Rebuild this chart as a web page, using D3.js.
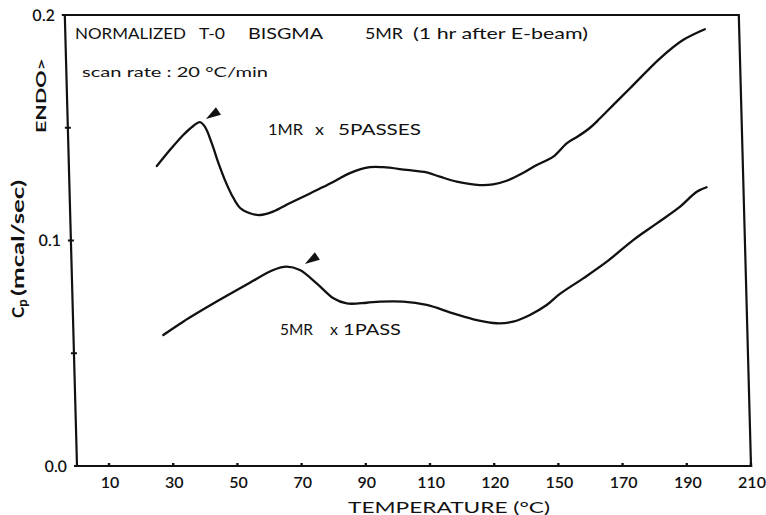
<!DOCTYPE html>
<html>
<head>
<meta charset="utf-8">
<script src="https://cdn.jsdelivr.net/npm/d3@7"></script>
<style>
  html, body { margin: 0; padding: 0; background: #fff; }
  svg { display: block; }
  text { fill: #111; font-family: Lato, "Open Sans", "DejaVu Sans", sans-serif; }
</style>
</head>
<body>
<svg id="chart" width="766" height="515"></svg>
<script>
// DSC trace, 1 MR x 5 passes (temperature, Cp)
const temps1MRx5 = [27.4, 31.6, 35.9, 39.1, 41.2, 42.7, 44.7, 46.6, 48.5, 50.5, 53.0, 56.0, 59.1, 63.2,
  68.6, 73.9, 79.0, 83.3, 87.5, 93.8, 97.9, 105.2, 111.4, 115.5, 120.7, 127.9, 132.0, 136.3, 141.4,
  145.8, 151.0, 155.3, 158.9, 162.7, 165.9, 171.2, 175.5, 185.1, 192.4, 199.3];
const cp1MRx5 = [0.1330, 0.1401, 0.1468, 0.1508, 0.1525, 0.1505, 0.1432, 0.1344, 0.1268, 0.1202,
  0.1144, 0.1121, 0.1113, 0.1128, 0.1166, 0.1202, 0.1237, 0.1268, 0.1299, 0.1325, 0.1325, 0.1313,
  0.1302, 0.1283, 0.1261, 0.1246, 0.1249, 0.1265, 0.1299, 0.1335, 0.1372, 0.1431, 0.1462, 0.1500,
  0.1542, 0.1616, 0.1675, 0.1808, 0.1889, 0.1937];

// DSC trace, 5 MR x 1 pass
const temps5MRx1 = [28.0, 34.3, 44.9, 55.4, 62.8, 67.0, 71.1, 76.2, 81.3, 85.4, 91.6, 95.8, 103.0,
  110.3, 118.5, 125.8, 132.0, 137.1, 142.4, 147.7, 151.9, 159.3, 166.8, 175.2, 182.7, 190.1, 195.4,
  198.5];
const cp5MRx1 = [0.0581, 0.0640, 0.0729, 0.0813, 0.0869, 0.0884, 0.0869, 0.0810, 0.0744, 0.0721,
  0.0724, 0.0729, 0.0729, 0.0714, 0.0677, 0.0647, 0.0633, 0.0640, 0.0670, 0.0714, 0.0763, 0.0832,
  0.0906, 0.1002, 0.1076, 0.1150, 0.1216, 0.1236];

// Axis ticks and their printed labels
const xTickValues = [10, 30, 50, 70, 90, 110, 130, 150, 170, 190, 210];
const xTickLabels = ["10", "30", "50", "70", "90", "110", "120", "150", "170", "190", "210"];
const yTickValues = [0, 0.1, 0.2];
const yTickLabels = ["0.0", "0.1", "0.2"];
const yMinorTicks = [0.05, 0.15];

// Arrowheads marking the peaks
const peakArrowT = [43.1, 72.7];
const peakArrowCp = [0.1539, 0.0896];

const svg = d3.select("#chart");
const x = d3.scaleLinear().domain([0, 210]).range([77, 751]);
const y = d3.scaleLinear().domain([0, 0.2]).range([466, 15]);
const ink = "#111";

// plotting frame is slightly slanted, as on the original plot sheet
const plot = svg.append("g")
  .attr("transform", `translate(0,${y(0)}) skewX(1.55) translate(0,${-y(0)})`);

plot.append("rect")
  .attr("x", x(0)).attr("y", y(0.2))
  .attr("width", x(210) - x(0)).attr("height", y(0) - y(0.2))
  .attr("fill", "none").attr("stroke", ink).attr("stroke-width", 2.2);

// y ticks (crossing the axis) and labels
plot.selectAll(".ytick").data(yTickValues.concat(yMinorTicks)).join("line")
  .attr("x1", x(0) - 3).attr("x2", x(0) + 3)
  .attr("y1", d => y(d)).attr("y2", d => y(d))
  .attr("stroke", ink).attr("stroke-width", 2);

plot.selectAll(".ylab").data(yTickValues).join("text")
  .attr("x", x(0) - 10).attr("y", d => y(d)).attr("dy", "0.36em")
  .attr("text-anchor", "end").attr("font-size", 16).attr("font-weight", 600)
  .text((d, i) => yTickLabels[i]);

// x ticks and labels
plot.selectAll(".xtick").data(xTickValues).join("line")
  .attr("x1", d => x(d)).attr("x2", d => x(d))
  .attr("y1", y(0) - 3).attr("y2", y(0) + 1)
  .attr("stroke", ink).attr("stroke-width", 2.4);

svg.selectAll(".xlab").data(xTickValues).join("text")
  .attr("x", d => x(d) + 1).attr("y", 488)
  .attr("text-anchor", "middle").attr("font-size", 16).attr("font-weight", 600)
  .text((d, i) => xTickLabels[i]);

// traces
const line = d3.line()
  .x(d => x(d[0])).y(d => y(d[1]))
  .curve(d3.curveCatmullRom.alpha(0.5));

const traces = [d3.zip(temps1MRx5, cp1MRx5), d3.zip(temps5MRx1, cp5MRx1)];
plot.selectAll(".trace").data(traces).join("path")
  .attr("d", line)
  .attr("fill", "none").attr("stroke", ink)
  .attr("stroke-width", 2.3).attr("stroke-linejoin", "round").attr("stroke-linecap", "round");

// peak arrowheads
plot.selectAll(".arrow").data(d3.zip(peakArrowT, peakArrowCp)).join("path")
  .attr("transform", d => `translate(${x(d[0])},${y(d[1])}) rotate(-32)`)
  .attr("d", "M0,0 L15,-4.5 L15,4.5 Z")
  .attr("fill", ink);

// annotation text
function label(str, px, py, size, width, weight) {
  const t = svg.append("text")
    .attr("x", px).attr("y", py)
    .attr("font-size", size)
    .attr("font-weight", weight || 400)
    .text(str);
  if (width) t.attr("textLength", width).attr("lengthAdjust", "spacingAndGlyphs");
  return t;
}

label("NORMALIZED", 75, 39, 15, 111);
label("T-0", 199, 39, 15, 26);
label("BISGMA", 248, 39, 15, 75);
label("5MR", 365, 39, 15, 38);
label("(1 hr after E-beam)", 413, 39, 15, 175);

label("scan rate : 20 °C/min", 82, 77, 14, 186);

label("1MR", 268, 135, 16, 35);
label("x", 315, 135, 16, 9);
label("5PASSES", 338, 135, 16, 83);

label("5MR", 280, 335, 16, 33);
label("x", 330, 335, 16, 8);
label("1PASS", 343, 335, 16, 58);

label("TEMPERATURE (°C)", 348, 513, 16, 202);

// rotated y-axis titles
const yTitle = svg.append("text")
  .attr("transform", "translate(24,318) rotate(-90)")
  .attr("font-size", 17).attr("font-weight", 700);
yTitle.append("tspan").text("C");
yTitle.append("tspan").attr("dy", 3).attr("font-size", 13).text("p");
svg.append("text")
  .attr("transform", "translate(24,296) rotate(-90)")
  .attr("font-size", 17).attr("font-weight", 700)
  .attr("textLength", 116).attr("lengthAdjust", "spacingAndGlyphs")
  .text("(mcal/sec)");

svg.append("text")
  .attr("transform", "translate(46,133) rotate(-90)")
  .attr("font-size", 14).attr("font-weight", 700)
  .attr("textLength", 75).attr("lengthAdjust", "spacingAndGlyphs")
  .text("ENDO>");
</script>
</body>
</html>
